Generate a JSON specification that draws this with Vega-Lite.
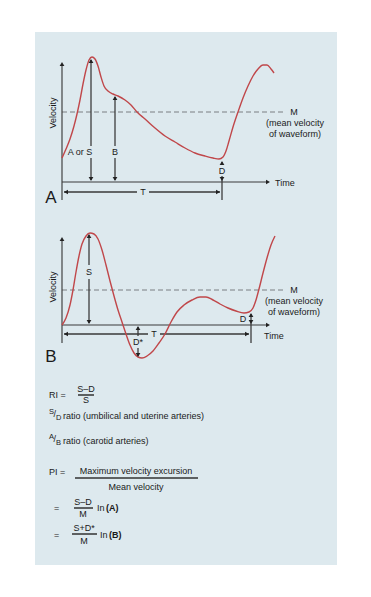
{
  "$schema": "https://vega.github.io/schema/vega-lite/v6.json",
  "width": 371,
  "height": 597,
  "padding": 0,
  "autosize": {"type": "fit", "contains": "padding"},
  "background": "white",
  "config": {"view": {"stroke": null}, "text": {"font": "Liberation Sans"}},
  "datasets": {
    "panel": [{"x": 35, "x2": 337, "y": 32, "y2": 565}],
    "curves": [
      {"c":"A","o":1,"x":62,"y":158},{"c":"A","o":2,"x":66,"y":149},{"c":"A","o":3,"x":70,"y":139},{"c":"A","o":4,"x":74,"y":126},{"c":"A","o":5,"x":77,"y":114},{"c":"A","o":6,"x":80,"y":100},{"c":"A","o":7,"x":83,"y":84},{"c":"A","o":8,"x":86,"y":70},{"c":"A","o":9,"x":89,"y":60},{"c":"A","o":10,"x":92,"y":57},{"c":"A","o":11,"x":95,"y":59},{"c":"A","o":12,"x":98,"y":66},{"c":"A","o":13,"x":101,"y":77},{"c":"A","o":14,"x":104,"y":86},{"c":"A","o":15,"x":108,"y":91},{"c":"A","o":16,"x":113,"y":94},{"c":"A","o":17,"x":118,"y":96},{"c":"A","o":18,"x":125,"y":100},{"c":"A","o":19,"x":131,"y":105},{"c":"A","o":20,"x":137,"y":112},{"c":"A","o":21,"x":145,"y":119},{"c":"A","o":22,"x":155,"y":128},{"c":"A","o":23,"x":165,"y":136},{"c":"A","o":24,"x":175,"y":142},{"c":"A","o":25,"x":185,"y":148},{"c":"A","o":26,"x":195,"y":153},{"c":"A","o":27,"x":205,"y":156},{"c":"A","o":28,"x":213,"y":158},{"c":"A","o":29,"x":219,"y":159},{"c":"A","o":30,"x":223,"y":157},{"c":"A","o":31,"x":226,"y":151},{"c":"A","o":32,"x":229,"y":141},{"c":"A","o":33,"x":233,"y":127},{"c":"A","o":34,"x":238,"y":112},{"c":"A","o":35,"x":243,"y":98},{"c":"A","o":36,"x":248,"y":86},{"c":"A","o":37,"x":253,"y":76},{"c":"A","o":38,"x":258,"y":69},{"c":"A","o":39,"x":263,"y":65},{"c":"A","o":40,"x":267,"y":65},{"c":"A","o":41,"x":271,"y":69},{"c":"A","o":42,"x":274,"y":73},
      {"c":"B","o":1,"x":62,"y":325},{"c":"B","o":2,"x":66,"y":318},{"c":"B","o":3,"x":70,"y":305},{"c":"B","o":4,"x":73,"y":290},{"c":"B","o":5,"x":76,"y":272},{"c":"B","o":6,"x":79,"y":256},{"c":"B","o":7,"x":82,"y":244},{"c":"B","o":8,"x":86,"y":236},{"c":"B","o":9,"x":90,"y":233},{"c":"B","o":10,"x":94,"y":234},{"c":"B","o":11,"x":98,"y":239},{"c":"B","o":12,"x":102,"y":250},{"c":"B","o":13,"x":106,"y":265},{"c":"B","o":14,"x":110,"y":281},{"c":"B","o":15,"x":114,"y":296},{"c":"B","o":16,"x":118,"y":310},{"c":"B","o":17,"x":122,"y":322},{"c":"B","o":18,"x":126,"y":334},{"c":"B","o":19,"x":130,"y":345},{"c":"B","o":20,"x":134,"y":353},{"c":"B","o":21,"x":138,"y":357},{"c":"B","o":22,"x":142,"y":358},{"c":"B","o":23,"x":147,"y":356},{"c":"B","o":24,"x":153,"y":351},{"c":"B","o":25,"x":159,"y":343},{"c":"B","o":26,"x":165,"y":334},{"c":"B","o":27,"x":171,"y":322},{"c":"B","o":28,"x":177,"y":312},{"c":"B","o":29,"x":184,"y":305},{"c":"B","o":30,"x":192,"y":300},{"c":"B","o":31,"x":200,"y":297},{"c":"B","o":32,"x":206,"y":297},{"c":"B","o":33,"x":213,"y":300},{"c":"B","o":34,"x":220,"y":304},{"c":"B","o":35,"x":228,"y":308},{"c":"B","o":36,"x":236,"y":311},{"c":"B","o":37,"x":244,"y":313},{"c":"B","o":38,"x":249,"y":312},{"c":"B","o":39,"x":253,"y":308},{"c":"B","o":40,"x":256,"y":300},{"c":"B","o":41,"x":259,"y":289},{"c":"B","o":42,"x":263,"y":273},{"c":"B","o":43,"x":267,"y":258},{"c":"B","o":44,"x":271,"y":245},{"c":"B","o":45,"x":275,"y":236}
    ],
    "segs": [
      {"k":"dash","x":62,"y":112,"x2":284,"y2":112},
      {"k":"dash","x":62,"y":290,"x2":284,"y2":290},
      {"k":"axis","x":62,"y":64,"x2":62,"y2":200},
      {"k":"axis","x":62,"y":182,"x2":266,"y2":182},
      {"k":"arrow","x":91,"y":60,"x2":91,"y2":146},
      {"k":"arrow","x":91,"y":158,"x2":91,"y2":180},
      {"k":"arrow","x":115,"y":97,"x2":115,"y2":146},
      {"k":"arrow","x":115,"y":158,"x2":115,"y2":180},
      {"k":"arrow","x":222,"y":162,"x2":222,"y2":165},
      {"k":"arrow","x":222,"y":176,"x2":222,"y2":200},
      {"k":"arrow","x":64,"y":192,"x2":137,"y2":192},
      {"k":"arrow","x":149,"y":192,"x2":220,"y2":192},
      {"k":"axis","x":62,"y":239,"x2":62,"y2":343},
      {"k":"axis","x":62,"y":325,"x2":266,"y2":325},
      {"k":"arrow","x":89,"y":235,"x2":89,"y2":265},
      {"k":"arrow","x":89,"y":279,"x2":89,"y2":323},
      {"k":"arrow","x":138,"y":327,"x2":138,"y2":336},
      {"k":"arrow","x":138,"y":348,"x2":138,"y2":356},
      {"k":"arrow","x":64,"y":334,"x2":148,"y2":334},
      {"k":"arrow","x":160,"y":334,"x2":249,"y2":334},
      {"k":"arrow","x":251,"y":314,"x2":251,"y2":343},
      {"k":"frac","x":78,"y":395,"x2":94,"y2":395},
      {"k":"frac","x":75,"y":478,"x2":198,"y2":478},
      {"k":"frac","x":74,"y":508,"x2":93,"y2":508},
      {"k":"frac","x":72,"y":534,"x2":97,"y2":534}
    ],
    "heads": [
      {"x":62,"y":64,"d":"up"},
      {"x":268,"y":182,"d":"right"},
      {"x":91,"y":61,"d":"up"},
      {"x":91,"y":179,"d":"down"},
      {"x":115,"y":98,"d":"up"},
      {"x":115,"y":179,"d":"down"},
      {"x":222,"y":163,"d":"up"},
      {"x":222,"y":179,"d":"down"},
      {"x":66,"y":192,"d":"left"},
      {"x":218,"y":192,"d":"right"},
      {"x":62,"y":239,"d":"up"},
      {"x":268,"y":325,"d":"right"},
      {"x":89,"y":236,"d":"up"},
      {"x":89,"y":322,"d":"down"},
      {"x":138,"y":328,"d":"up"},
      {"x":138,"y":355,"d":"down"},
      {"x":66,"y":334,"d":"left"},
      {"x":247,"y":334,"d":"right"},
      {"x":251,"y":315,"d":"up"},
      {"x":251,"y":322,"d":"down"}
    ],
    "ctext": [
      {"t":"A or S","x":80,"y":152,"s":9},
      {"t":"B","x":115,"y":152,"s":9},
      {"t":"D","x":222,"y":171,"s":9},
      {"t":"T","x":143,"y":192,"s":9},
      {"t":"M","x":294,"y":112,"s":9},
      {"t":"(mean velocity","x":295,"y":123,"s":9},
      {"t":"of waveform)","x":295,"y":134,"s":9},
      {"t":"A","x":51,"y":198,"s":17},
      {"t":"S","x":89,"y":272,"s":9},
      {"t":"D*","x":138,"y":342,"s":9},
      {"t":"T","x":154,"y":334,"s":9},
      {"t":"D","x":243,"y":319,"s":9},
      {"t":"M","x":294,"y":290,"s":9},
      {"t":"(mean velocity","x":294,"y":301,"s":9},
      {"t":"of waveform)","x":294,"y":312,"s":9},
      {"t":"B","x":51,"y":357,"s":17},
      {"t":"S–D","x":86,"y":389,"s":9},
      {"t":"S","x":86,"y":400,"s":9},
      {"t":"Maximum velocity excursion","x":136,"y":471,"s":9},
      {"t":"Mean velocity","x":136,"y":487,"s":9},
      {"t":"S–D","x":83,"y":502,"s":9},
      {"t":"M","x":83,"y":514,"s":9},
      {"t":"S+D*","x":84,"y":528,"s":9},
      {"t":"M","x":84,"y":541,"s":9}
    ],
    "ltext": [
      {"t":"Time","x":275,"y":183,"s":9},
      {"t":"Time","x":264,"y":336,"s":9},
      {"t":"RI =","x":49,"y":395,"s":9},
      {"t":"S","x":49,"y":412,"s":7.5},
      {"t":"/","x":53.5,"y":414,"s":9},
      {"t":"D","x":56,"y":418,"s":7.5},
      {"t":"ratio (umbilical and uterine arteries)","x":63,"y":416,"s":9},
      {"t":"A","x":49,"y":437,"s":7.5},
      {"t":"/","x":53.5,"y":439,"s":9},
      {"t":"B","x":56,"y":443,"s":7.5},
      {"t":"ratio (carotid arteries)","x":63,"y":441,"s":9},
      {"t":"PI =","x":49,"y":472,"s":9},
      {"t":"=","x":54,"y":508,"s":9},
      {"t":"In","x":97,"y":508,"s":9},
      {"t":"=","x":54,"y":535,"s":9},
      {"t":"In","x":100,"y":535,"s":9}
    ],
    "btext": [
      {"t":"(A)","x":106,"y":508,"s":9},
      {"t":"(B)","x":109,"y":535,"s":9}
    ],
    "rtext": [
      {"t":"Velocity","x":53,"y":113,"s":9},
      {"t":"Velocity","x":53,"y":287,"s":9}
    ]
  },
  "encoding": {
    "x": {"field": "x", "type": "quantitative", "scale": {"domain": [0, 371], "nice": false, "zero": false}, "axis": null},
    "y": {"field": "y", "type": "quantitative", "scale": {"domain": [0, 597], "nice": false, "zero": false, "reverse": true}, "axis": null}
  },
  "layer": [
    {
      "data": {"name": "panel"},
      "mark": {"type": "rect", "color": "#dde9ee"},
      "encoding": {"x2": {"field": "x2"}, "y2": {"field": "y2"}}
    },
    {
      "data": {"name": "segs"},
      "mark": {"type": "rule"},
      "encoding": {
        "x2": {"field": "x2"},
        "y2": {"field": "y2"},
        "color": {"field": "k", "type": "nominal", "scale": {"domain": ["dash", "axis", "arrow", "frac"], "range": ["#7a7f82", "#3a3a3a", "#3a3a3a", "#333333"]}, "legend": null},
        "strokeWidth": {"field": "k", "type": "nominal", "scale": {"domain": ["dash", "axis", "arrow", "frac"], "range": [1, 1.4, 1.1, 0.8]}, "legend": null},
        "strokeDash": {"field": "k", "type": "nominal", "scale": {"domain": ["dash", "axis", "arrow", "frac"], "range": [[5, 3], [1, 0], [1, 0], [1, 0]]}, "legend": null}
      }
    },
    {
      "data": {"name": "curves"},
      "mark": {"type": "line", "interpolate": "monotone", "color": "#c0474a", "strokeWidth": 1.4},
      "encoding": {"detail": {"field": "c"}, "order": {"field": "o", "type": "quantitative"}}
    },
    {
      "data": {"name": "heads"},
      "mark": {"type": "point", "filled": true, "color": "#222222", "opacity": 1, "size": 22},
      "encoding": {
        "shape": {"field": "d", "type": "nominal", "scale": {"domain": ["up", "down", "left", "right"], "range": ["triangle-up", "triangle-down", "triangle-left", "triangle-right"]}, "legend": null}
      }
    },
    {
      "data": {"name": "ctext"},
      "mark": {"type": "text", "align": "center", "baseline": "middle", "color": "#1a1a1a"},
      "encoding": {"text": {"field": "t"}, "size": {"field": "s", "type": "quantitative", "scale": null}}
    },
    {
      "data": {"name": "ltext"},
      "mark": {"type": "text", "align": "left", "baseline": "middle", "color": "#1a1a1a"},
      "encoding": {"text": {"field": "t"}, "size": {"field": "s", "type": "quantitative", "scale": null}}
    },
    {
      "data": {"name": "btext"},
      "mark": {"type": "text", "align": "left", "baseline": "middle", "color": "#1a1a1a", "fontWeight": "bold"},
      "encoding": {"text": {"field": "t"}, "size": {"field": "s", "type": "quantitative", "scale": null}}
    },
    {
      "data": {"name": "rtext"},
      "mark": {"type": "text", "align": "center", "baseline": "middle", "color": "#1a1a1a", "angle": 270},
      "encoding": {"text": {"field": "t"}, "size": {"field": "s", "type": "quantitative", "scale": null}}
    }
  ]
}
